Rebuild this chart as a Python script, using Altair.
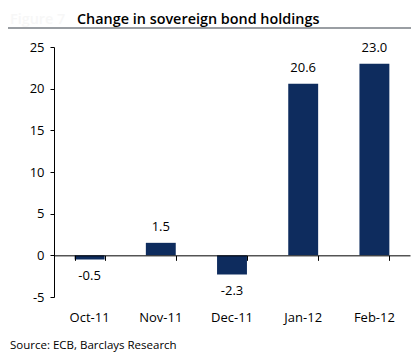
import altair as alt
import pandas as pd

months = ["Oct-11", "Nov-11", "Dec-11", "Jan-12", "Feb-12"]
values = [-0.5, 1.5, -2.3, 20.6, 23.0]
value_labels = ["-0.5", "1.5", "-2.3", "20.6", "23.0"]
y_ticks = [-5, 0, 5, 10, 15, 20, 25]

title_text = "Change in sovereign bond holdings"
figure_text = "Figure 7"
source_text = "Source: ECB, Barclays Research"

FONT = "Open Sans"
BAR = "#0e2c5e"

df = pd.DataFrame({"month": months, "value": values, "label": value_labels})
one = pd.DataFrame({"k": [0]})

W, H = 356, 250
ymin, ymax = -5, 25
zero_offset = -(H * (0 - ymin) / (ymax - ymin))

xscale = alt.Scale(paddingInner=0.58, paddingOuter=0.29)
yscale = alt.Scale(domain=[ymin, ymax], nice=False, zero=False)

yaxis = alt.Axis(values=y_ticks, tickSize=4, domainColor="black", tickColor="black",
                 labelFontSize=13, labelFont=FONT, labelColor="black", grid=False,
                 title=None, labelPadding=6, domainWidth=1, tickWidth=1,
                 labelExpr="'' + datum.value")

label_axis = alt.Axis(orient="bottom", domain=False, ticks=False, labelAngle=0,
                      labelPadding=14, labelFontSize=13, labelFont=FONT,
                      labelColor="black", title=None, grid=False)
tick_axis = alt.Axis(orient="bottom", offset=zero_offset, labels=False, tickBand="extent",
                     tickSize=5, domainColor="black", tickColor="black", title=None,
                     grid=False, domainWidth=1, tickWidth=1, zindex=1)

base = alt.Chart(df)

bars = base.mark_bar(color=BAR).encode(
    x=alt.X("month:N", sort=months, scale=xscale, axis=label_axis),
    y=alt.Y("value:Q", scale=yscale, axis=yaxis),
)

zero_axis = base.mark_bar(opacity=0).encode(
    x=alt.X("month:N", sort=months, scale=xscale, axis=tick_axis),
    y=alt.Y("value:Q", scale=yscale, axis=yaxis),
)

pos_text = base.transform_filter("datum.value >= 0").mark_text(
    dy=-16, font=FONT, fontSize=13, color="black", baseline="middle").encode(
    x=alt.X("month:N", sort=months, scale=xscale, axis=None),
    y=alt.Y("value:Q", scale=yscale, axis=yaxis),
    text="label:N",
)
neg_text = base.transform_filter("datum.value < 0").mark_text(
    dy=16, font=FONT, fontSize=13, color="black", baseline="middle").encode(
    x=alt.X("month:N", sort=months, scale=xscale, axis=None),
    y=alt.Y("value:Q", scale=yscale, axis=yaxis),
    text="label:N",
)

ann = alt.Chart(one)
title = ann.mark_text(text=title_text, font=FONT, fontSize=14.4, fontWeight=600,
                      color="black", align="left", baseline="alphabetic").encode(
    x=alt.value(23), y=alt.value(-23.5))
figure = ann.mark_text(text=figure_text, font=FONT, fontSize=14.4, fontWeight=600,
                       color="#f7f7f7", align="left", baseline="alphabetic").encode(
    x=alt.value(-44), y=alt.value(-23.5))
rule = ann.mark_rule(color="#9a9ea3", strokeWidth=2).encode(
    x=alt.value(-46), x2=alt.value(W + 1), y=alt.value(-19))
source = ann.mark_text(text=source_text, font=FONT, fontSize=11.5,
                       color="black", align="left", baseline="alphabetic").encode(
    x=alt.value(-44), y=alt.value(H + 52))

chart = alt.layer(bars, zero_axis, pos_text, neg_text, title, figure, rule, source).resolve_axis(
    x="independent"
).properties(
    width=W, height=H,
    autosize=alt.AutoSizeParams(type="none"),
    padding={"left": 46, "top": 39, "right": 1, "bottom": 57},
).configure_view(stroke=None)

chart.save("out.html", embed_options={"renderer": "svg", "actions": False})
